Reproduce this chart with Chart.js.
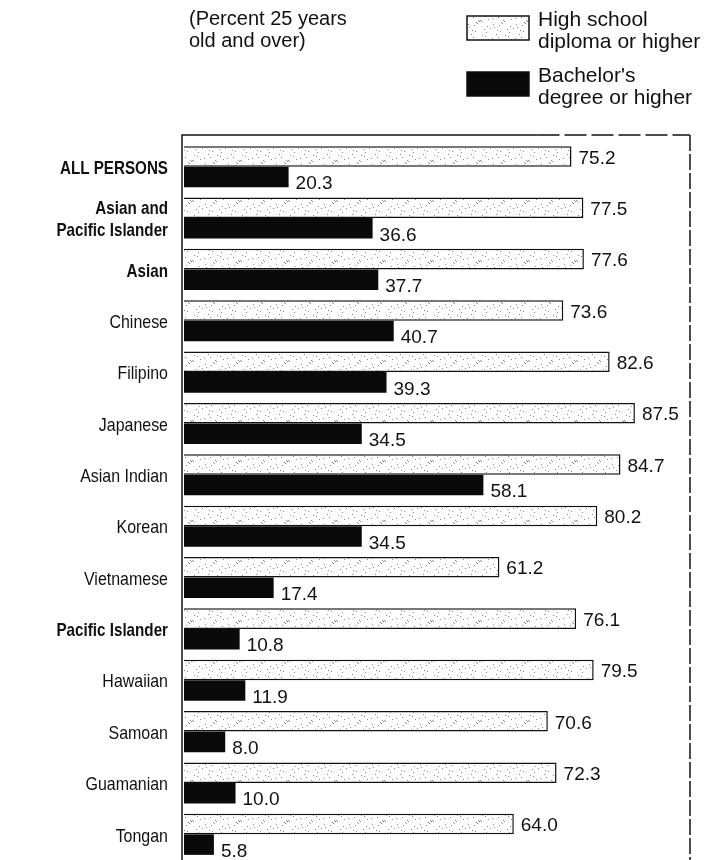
<!DOCTYPE html>
<html>
<head>
<meta charset="utf-8">
<script src="https://cdn.jsdelivr.net/npm/chart.js@4.4.1/dist/chart.umd.min.js"></script>
<style>
  html, body { margin: 0; padding: 0; background: #fff; }
</style>
</head>
<body>
<canvas id="edu-asian" width="713" height="860"></canvas>
<script>
const categories = [
  'ALL PERSONS', ['Asian and', 'Pacific Islander'], 'Asian', 'Chinese', 'Filipino',
  'Japanese', 'Asian Indian', 'Korean', 'Vietnamese', 'Pacific Islander',
  'Hawaiian', 'Samoan', 'Guamanian', 'Tongan'
];
const highSchool = [75.2, 77.5, 77.6, 73.6, 82.6, 87.5, 84.7, 80.2, 61.2, 76.1, 79.5, 70.6, 72.3, 64.0];
const bachelors = [20.3, 36.6, 37.7, 40.7, 39.3, 34.5, 58.1, 34.5, 17.4, 10.8, 11.9, 8.0, 10.0, 5.8];
const boldRows = [0, 1, 2, 9];
const seriesNames = [['High school', 'diploma or higher'], ["Bachelor's", 'degree or higher']];
const subtitle = ['(Percent 25 years', 'old and over)'];

const FONT = "'Liberation Sans', Arial, Helvetica, sans-serif";

// light stipple like the printed screen tone
function speckle() {
  const c = document.createElement('canvas');
  c.width = 48; c.height = 20;
  const g = c.getContext('2d');
  g.fillStyle = '#fff';
  g.fillRect(0, 0, 48, 20);
  g.fillStyle = '#8a8a8a';
  for (let y = 0; y < 20; y++) {
    for (let x = 0; x < 48; x++) {
      if ((x * 7 + y * 13 + x * y * 3) % 23 === 0) g.fillRect(x, y, 1, 1);
    }
  }
  return g.createPattern(c, 'repeat');
}
const hsFill = speckle();

const framePlugin = {
  id: 'frame',
  afterDraw(chart) {
    const ctx = chart.ctx;
    const a = chart.chartArea;
    const top = a.top - 6;
    const split = a.left + (a.right - a.left) * 0.7;
    ctx.save();
    ctx.strokeStyle = '#111';
    ctx.lineWidth = 1.5;
    ctx.beginPath();
    ctx.moveTo(a.left - 2, chart.height);
    ctx.lineTo(a.left - 2, top);
    ctx.lineTo(split, top);
    ctx.stroke();
    ctx.setLineDash([22, 5]);
    ctx.beginPath();
    ctx.moveTo(split, top);
    ctx.lineTo(a.right + 1, top);
    ctx.stroke();
    ctx.setLineDash([16, 3]);
    ctx.beginPath();
    ctx.moveTo(a.right + 1, top);
    ctx.lineTo(a.right + 1, chart.height);
    ctx.stroke();
    ctx.restore();
  }
};

// category names, drawn a little condensed like the printed face
const namePlugin = {
  id: 'names',
  afterDraw(chart) {
    const ctx = chart.ctx;
    const y = chart.scales.y;
    ctx.save();
    ctx.fillStyle = '#111';
    ctx.textAlign = 'right';
    ctx.textBaseline = 'middle';
    categories.forEach((name, i) => {
      const bold = boldRows.includes(i);
      const lines = Array.isArray(name) ? name : [name];
      const cy = y.getPixelForValue(i) + 2;
      ctx.font = (bold ? 'bold 19px ' : '19px ') + FONT;
      lines.forEach((txt, k) => {
        ctx.save();
        ctx.translate(168, cy + (k - (lines.length - 1) / 2) * 22);
        ctx.scale(bold ? 0.8 : 0.84, 1);
        ctx.fillText(txt, 0, 0);
        ctx.restore();
      });
    });
    ctx.restore();
  }
};

const valuePlugin = {
  id: 'values',
  afterDatasetsDraw(chart) {
    const ctx = chart.ctx;
    ctx.save();
    ctx.fillStyle = '#111';
    ctx.font = '19px ' + FONT;
    ctx.textAlign = 'left';
    ctx.textBaseline = 'middle';
    chart.data.datasets.forEach((ds, i) => {
      chart.getDatasetMeta(i).data.forEach((bar, j) => {
        ctx.fillText(ds.data[j].toFixed(1), bar.x + 7, bar.y + (i === 1 ? 7 : 2));
      });
    });
    ctx.restore();
  }
};

const legendPlugin = {
  id: 'topLegend',
  afterDraw(chart) {
    const ctx = chart.ctx;
    ctx.save();
    ctx.fillStyle = '#111';
    ctx.textBaseline = 'middle';
    ctx.textAlign = 'left';
    ctx.font = '20px ' + FONT;
    ctx.fillText(subtitle[0], 189, 19);
    ctx.fillText(subtitle[1], 189, 41);

    const boxes = [16, 72];
    chart.data.datasets.forEach((ds, i) => {
      const y = boxes[i];
      ctx.fillStyle = ds.backgroundColor;
      ctx.fillRect(467, y, 62, 24);
      ctx.strokeStyle = '#111';
      ctx.lineWidth = 1.5;
      ctx.strokeRect(467, y, 62, 24);
      ctx.fillStyle = '#111';
      ctx.font = '21px ' + FONT;
      ctx.fillText(seriesNames[i][0], 538, y + 4);
      ctx.fillText(seriesNames[i][1], 538, y + 26);
    });
    ctx.restore();
  }
};

new Chart(document.getElementById('edu-asian').getContext('2d'), {
  type: 'bar',
  data: {
    labels: categories,
    datasets: [{
      label: seriesNames[0].join(' '),
      data: highSchool,
      backgroundColor: hsFill,
      borderColor: '#111',
      borderWidth: 1.5,
      borderSkipped: 'start'
    },
    {
      label: seriesNames[1].join(' '),
      data: bachelors,
      backgroundColor: '#0a0a0a',
      borderWidth: 0
    }]
  },
  options: {
    indexAxis: 'y',
    responsive: false,
    animation: false,
    layout: {
      padding: { top: 141, right: 24, bottom: -8, left: 0 }
    },
    datasets: {
      bar: { categoryPercentage: 0.8, barPercentage: 1.0 }
    },
    scales: {
      x: {
        display: false,
        min: 0,
        max: 98
      },
      y: {
        grid: { display: false, drawTicks: false },
        border: { display: false },
        afterFit(scale) { scale.width = 184; },
        ticks: { display: false }
      }
    },
    plugins: {
      legend: { display: false },
      tooltip: { enabled: false }
    }
  },
  plugins: [framePlugin, namePlugin, valuePlugin, legendPlugin]
});
</script>
</body>
</html>
